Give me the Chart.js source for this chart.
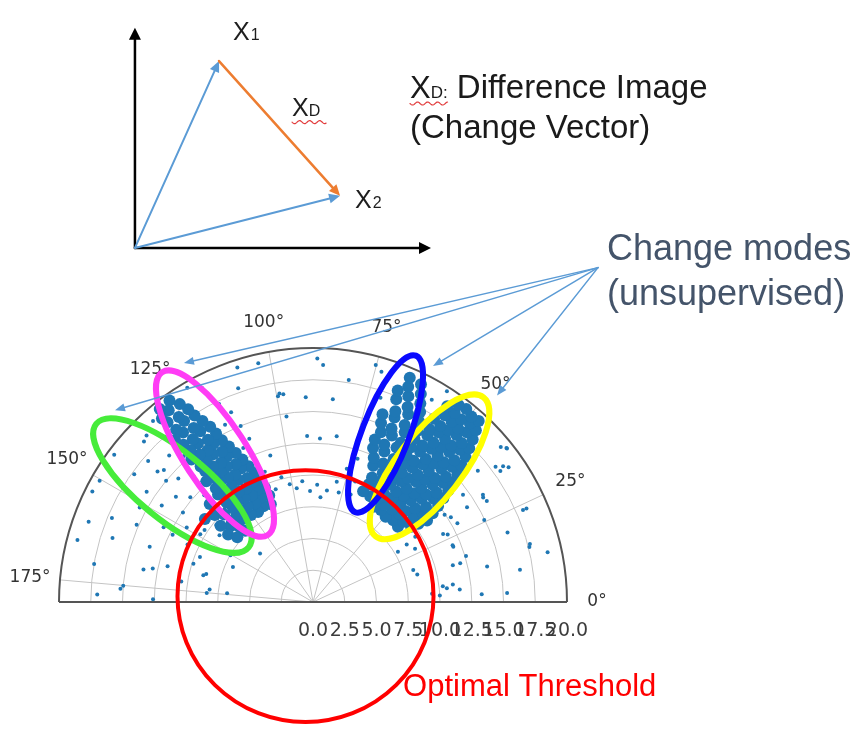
<!DOCTYPE html>
<html>
<head>
<meta charset="utf-8">
<style>
html,body{margin:0;padding:0;background:#ffffff;}
#wrap{width:864px;height:729px;}
</style>
<script src="https://cdn.jsdelivr.net/npm/chart.js@4"></script>
</head>
<body>
<div id="wrap"><canvas id="c" width="864" height="729"></canvas></div>
<script>
// ---------------- data ----------------
// radial tick labels and angular tick labels of the half-polar plot
const radialTicks = [0, 2.5, 5, 7.5, 10, 12.5, 15, 17.5, 20];
const angleTicks = [0, 25, 50, 75, 100, 125, 150, 175];

// [angle in degrees, magnitude] pairs
// dense change mode on the right (yellow / blue ellipses)
const rightMode = [
  [42,9.0],[46,9.1],[50,8.9],[54,9.1],[58,9.0],
  [38,9.8],[42,9.6],[46,9.8],[50,9.7],[54,9.6],[58,9.8],[62,9.6],[66,9.7],
  [37,10.4],[41,10.5],[45,10.3],[49,10.5],[53,10.4],[57,10.3],[61,10.5],[65,10.4],
  [36,11.1],[39.5,11.2],[43,11.0],[46.5,11.2],[50,11.1],[53.5,11.0],[57,11.2],[61,11.1],[65,11.0],
  [37,11.8],[40.5,11.7],[44,11.9],[47.5,11.8],[51,11.7],[54.5,11.9],[58,11.8],[62,11.7],[66.5,11.9],
  [38,12.5],[41,12.6],[44,12.4],[47,12.5],[50,12.6],[53,12.4],[56,12.5],[59.5,12.6],[63.5,12.4],[67.5,12.5],
  [39,13.2],[42,13.1],[45,13.3],[48,13.2],[51,13.1],[54,13.3],[57,13.2],[61,13.1],[65,13.3],[69,13.2],
  [40,13.9],[43,14.0],[46,13.8],[49,13.9],[52,14.0],[55,13.8],[58,13.9],[62,14.0],[66,13.8],[69.5,13.9],
  [41,14.6],[43.8,14.5],[46.6,14.7],[49.4,14.6],[52.2,14.5],[55,14.7],[58,14.6],[61.5,14.5],[65,14.7],[68.5,14.6],
  [42,15.3],[44.7,15.4],[47.4,15.2],[50.1,15.3],[52.8,15.4],[55.5,15.2],[58.5,15.3],[62,15.4],[66,15.2],[69.5,15.3],
  [43,16.0],[45.6,15.9],[48.2,16.1],[50.8,16.0],[53.4,15.9],[56,16.1],[59,16.0],[63,15.9],[66.5,16.1],[70,16.0],
  [44,16.7],[46.5,16.8],[49,16.6],[51.5,16.7],[54,16.8],[56.5,16.6],[60,16.7],[63.5,16.8],[67,16.6],
  [45,17.4],[47.4,17.3],[49.8,17.5],[52.2,17.4],[54.6,17.3],[57,17.5],[61,17.4],[64.5,17.3],[68,17.5],
  [46,18.1],[48.3,18.2],[50.6,18.0],[52.9,18.1],[55.2,18.2],[62,18.0],[65.5,18.1],[68.5,18.2],
  [47,18.8],[49.2,18.9],[51.4,18.7],[53.6,18.8],[56,18.9],[63,18.7],[66.5,18.8],
  [48,19.5],[50,19.4],[52,19.6],[54,19.5],[64,19.4],[67,19.5]
];

// dense change mode on the left (magenta / green ellipses)
const leftMode = [
  [113,8.5],[117,8.6],[121,8.4],[125,8.5],[129,8.6],
  [112,9.2],[116,9.3],[120,9.1],[124,9.2],[128,9.3],[132,9.1],
  [112.5,9.9],[116,10.0],[119.5,9.8],[123,9.9],[126.5,10.0],[130,9.8],
  [113,10.6],[116.5,10.7],[120,10.5],[123.5,10.6],[127,10.7],[130.5,10.5],
  [114,11.3],[117.5,11.2],[121,11.4],[124.5,11.3],[128,11.2],[131,11.4],
  [115,12.0],[118,12.1],[121,11.9],[124,12.0],[127,12.1],[130,11.9],
  [116,12.7],[119,12.6],[122,12.8],[125,12.7],[128,12.6],[131,12.8],
  [117,13.4],[120,13.5],[123,13.3],[126,13.4],[129,13.5],
  [118,14.1],[120.8,14.0],[123.6,14.2],[126.4,14.1],[129.2,14.0],
  [119,14.8],[121.7,14.9],[124.4,14.7],[127.1,14.8],[130,14.9],
  [119.5,15.5],[122.5,15.4],[125.5,15.6],[128.5,15.5],
  [120,16.2],[123,16.3],[126,16.1],[129,16.2],
  [121,16.9],[124,16.8],[127,17.0],[130,16.9],
  [122,17.6],[125,17.7],[128,17.5],
  [122.5,18.3],[125.5,18.2],[128.5,18.4],
  [123.5,19.0],[126.5,19.1],[129,18.9],
  [125,19.7],[128,19.6],
  [134,8.4],[137,8.9],[140,9.5],[138,10.4],[142,10.8],[135,9.9],[141,8.6],[136,11.3],[133,7.8],[139,7.9]
];

// scattered points over the whole half disk
const scattered = [
  [107.6,19.7],[102.7,19.6],[98,16.8],[92,16.4],[89,19.5],[87.6,19.0],[75.4,19.6],[73.7,19.2],
  [99,16.9],[84.5,16.3],[81,18.0],[98,15.0],[92,13.3],[82,13.4],[87.6,13.1],[101,9.6],
  [91.5,8.9],[83,9.0],[77,9.0],[86,8.4],[71,9.1],[95,9.7],[88,9.4],[79,9.8],[104,10.3],[98,9.2],
  [109,18.1],[99.5,16.7],[111,14.0],[106,12.2],[113,16.5],[110,11.1],[108,9.5],
  [31,7.8],[32,8.7],[18,8.3],[21.8,11.9],[15,12.0],[7.3,11.1],[11.7,14.0],[2.7,15.3],
  [15.2,17.7],[12.2,18.9],[24,18.1],[30.6,15.9],[36,14.6],[36,18.5],[39,19.6],[27,11.9],
  [14.5,17.6],[5,11.6],[7,10.3],[15,8.5],[15,11.4],[17,12.6],[28,11.6],[29,13.0],
  [32,15.8],[35,18.8],[37,18.0],[24,18.4],[39,16.7],[40,19.3],[28,9.1],[22.5,11.9],
  [2.7,13.3],[4,9.4],[6,10.6],[3,10.0],[33,9.6],[34,12.5],[26,15.0],[20,16.3],[9,16.5],
  [38.8,19.6],[35.4,18.1],[32.7,15.9],[32,14.3],[32,12.8],
  [72,17.2],[74,15.0],[73,12.0],[76,11.0],[71,10.2],[58,19.9],[60,18.7],
  [153,19.5],[150,19.4],[151,15.6],[153,13.2],[168,12.9],[166,11.8],[175,15.0],[179,12.6],
  [165,8.7],[173,8.2],[158,9.6],[155,10.9],[154,12.3],[146,15.8],[144,17.4],[139.5,16.1],
  [143,19.6],[134.5,18.7],[148.6,10.4],[169,13.6],[176,15.2],[166,8.9],[175,8.4],[161,13.6],
  [138,15.8],[162,9.9],[156,6.9],[174,6.8],[137,5.7],[156,15.2],[162,16.6],
  [133,10.2],[136,9.3],[138,10.8],[135,12.1],[139,12.8],[141,9.8],[143,11.0],[137,14.5],
  [140,15.1],[134,16.3],[142,13.7],[145,12.5],[144,9.1],[146,10.3],[132,17.8],[136,18.5],
  [131,19.2],[139,17.2],[147,14.2],[149,11.6],[133,13.8],[170,17.5],[160,18.8],[157,17.2],
  [165,19.2],[171,10.5],[178,17.0],[150,7.5],[145,7.0],
  [115,17.5],[117,19.2],[114,13.5],[112,15.2],[116,15.8],[131,15.5],[132,13.0],[120,19.8]
];

// ---------------- annotation layout (in chart units) ----------------
const modeEllipses = [
  {theta:139.9, r:14.47, a:7.72, b:2.76, tilt:141, color:'#46ec3a'},
  {theta:123.0, r:14.17, a:7.64, b:2.50, tilt:123, color:'#ff3cf5'},
  {theta:49.7,  r:14.19, a:6.93, b:2.60, tilt:52.2, color:'#ffff00'},
  {theta:67.0,  r:14.62, a:6.61, b:1.89, tilt:68.8, color:'#0a0aff'}
];
const thresholdCircle = {x:-0.59, y:0.47, radius:10.08, color:'#ff0000'};

const notes = {
  origin:[-14.02,28.35], yTop:[-14.02,45.98], xEnd:[9.29,28.35],
  x1Tip:[-7.40,43.31], x2Tip:[2.13,32.52],
  x1Label:[-6.30,44.96], x2Label:[3.31,31.58], xdLabel:[-1.65,38.90],
  defLine1:[7.64,40.39], defLine2:[7.64,37.17],
  modesLine1:[23.15,27.40], modesLine2:[23.15,23.78],
  modesFrom:[22.44,26.77],
  modesTo:[[-10.16,19.13],[-15.59,15.35],[9.45,18.90],[14.49,16.54]],
  threshold:[7.09,-7.56]
};

// ---------------- helpers ----------------
const rad = d => d*Math.PI/180;
const toXY = p => ({x: p[1]*Math.cos(rad(p[0])), y: p[1]*Math.sin(rad(p[0]))});

function arrow(ctx,x0,y0,x1,y1,color,lw,head,hw){
  const a = Math.atan2(y1-y0,x1-x0);
  ctx.strokeStyle=color; ctx.fillStyle=color; ctx.lineWidth=lw; ctx.lineCap='round';
  ctx.beginPath(); ctx.moveTo(x0,y0);
  ctx.lineTo(x1-Math.cos(a)*head*0.7, y1-Math.sin(a)*head*0.7); ctx.stroke();
  ctx.beginPath(); ctx.moveTo(x1,y1);
  ctx.lineTo(x1-head*Math.cos(a)+hw*Math.sin(a), y1-head*Math.sin(a)-hw*Math.cos(a));
  ctx.lineTo(x1-head*Math.cos(a)-hw*Math.sin(a), y1-head*Math.sin(a)+hw*Math.cos(a));
  ctx.closePath(); ctx.fill();
}
function wavy(ctx,x0,x1,y){
  ctx.beginPath();
  for(let xx=x0; xx<=x1; xx+=0.5){
    const yy = y + 1.5*Math.sin((xx-x0)/1.6);
    if(xx===x0) ctx.moveTo(xx,yy); else ctx.lineTo(xx,yy);
  }
  ctx.strokeStyle='#e23b3b'; ctx.lineWidth=1.2; ctx.stroke();
}
function text(ctx,s,x,y,font,color){
  ctx.font=font; ctx.fillStyle=color; ctx.textAlign='left'; ctx.textBaseline='alphabetic';
  ctx.fillText(s,x,y); return ctx.measureText(s).width;
}

const polarPlugin = {
  id:'polarGrid',
  beforeDatasetsDraw(chart){
    const {ctx, scales:{x,y}} = chart;
    const cx = x.getPixelForValue(0), cy = y.getPixelForValue(0);
    const k = x.getPixelForValue(1)-cx;
    const R = 20*k;
    ctx.save();
    ctx.strokeStyle='#c4c4c4'; ctx.lineWidth=1;
    radialTicks.filter(v=>v>0 && v<20).forEach(v=>{
      ctx.beginPath(); ctx.arc(cx,cy,v*k,Math.PI,2*Math.PI); ctx.stroke();
    });
    angleTicks.filter(a=>a>0).forEach(a=>{
      ctx.beginPath(); ctx.moveTo(cx,cy);
      ctx.lineTo(cx+R*Math.cos(rad(a)), cy-R*Math.sin(rad(a))); ctx.stroke();
    });
    ctx.strokeStyle='#555555'; ctx.lineWidth=2;
    ctx.beginPath(); ctx.arc(cx,cy,R,Math.PI,2*Math.PI); ctx.stroke();
    ctx.beginPath(); ctx.moveTo(cx-R,cy); ctx.lineTo(cx+R,cy); ctx.stroke();
    ctx.fillStyle='#333333'; ctx.font='17px "DejaVu Sans"';
    ctx.textAlign='center'; ctx.textBaseline='middle';
    angleTicks.forEach(a=>{
      const rr = R+30;
      ctx.fillText(a+'°', cx+rr*Math.cos(rad(a)), cy-rr*Math.sin(rad(a)));
    });
    ctx.restore();
  },
  afterDatasetsDraw(chart){
    const {ctx, scales:{x,y}} = chart;
    const kx = x.getPixelForValue(1)-x.getPixelForValue(0);
    const ky = y.getPixelForValue(0)-y.getPixelForValue(1);
    const P = p => [x.getPixelForValue(p[0]), y.getPixelForValue(p[1])];
    ctx.save();
    // change-mode ellipses
    modeEllipses.forEach(e=>{
      const px = x.getPixelForValue(e.r*Math.cos(rad(e.theta)));
      const py = y.getPixelForValue(e.r*Math.sin(rad(e.theta)));
      ctx.beginPath();
      ctx.ellipse(px,py,e.a*kx,e.b*ky,-rad(e.tilt),0,2*Math.PI);
      ctx.strokeStyle=e.color; ctx.lineWidth=6; ctx.stroke();
    });
    // threshold circle
    ctx.beginPath();
    ctx.ellipse(x.getPixelForValue(thresholdCircle.x), y.getPixelForValue(thresholdCircle.y),
      thresholdCircle.radius*kx, thresholdCircle.radius*ky, 0, 0, 2*Math.PI);
    ctx.strokeStyle=thresholdCircle.color; ctx.lineWidth=4; ctx.stroke();

    // arrows from "Change modes"
    const f = P(notes.modesFrom);
    notes.modesTo.forEach(t=>{
      const q = P(t);
      arrow(ctx,f[0],f[1],q[0],q[1],'#5b9bd5',1.5,10,4);
    });

    // vector diagram
    const o = P(notes.origin), yt = P(notes.yTop), xe = P(notes.xEnd);
    arrow(ctx,o[0],o[1],yt[0],yt[1],'#000000',2.5,12,6);
    arrow(ctx,o[0],o[1],xe[0],xe[1],'#000000',2.5,12,6);
    const a1 = P(notes.x1Tip), a2 = P(notes.x2Tip);
    arrow(ctx,o[0],o[1],a1[0],a1[1],'#5b9bd5',2,11,5);
    arrow(ctx,o[0],o[1],a2[0],a2[1],'#5b9bd5',2,11,5);
    arrow(ctx,a1[0],a1[1],a2[0],a2[1],'#ed7d31',2.5,11,5);

    const F = s => s+'px "Liberation Sans", Arial, sans-serif';
    let p = P(notes.x1Label);
    let w = text(ctx,'X',p[0],p[1],F(25),'#1e1e1e');
    text(ctx,'1',p[0]+w+1,p[1],F(16),'#1e1e1e');
    p = P(notes.x2Label);
    w = text(ctx,'X',p[0],p[1],F(25),'#1e1e1e');
    text(ctx,'2',p[0]+w+1,p[1],F(16),'#1e1e1e');
    p = P(notes.xdLabel);
    w = text(ctx,'X',p[0],p[1],F(25),'#1e1e1e');
    const w2 = text(ctx,'D',p[0]+w,p[1],F(16),'#1e1e1e');
    wavy(ctx,p[0],p[0]+w+w2+6,p[1]+6);

    p = P(notes.defLine1);
    w = text(ctx,'X',p[0],p[1],F(31),'#1a1a1a');
    let w3 = text(ctx,'D:',p[0]+w,p[1],F(17),'#1a1a1a');
    wavy(ctx,p[0],p[0]+w+w3,p[1]+6);
    text(ctx,' Difference Image',p[0]+w+w3,p[1],F(33),'#1a1a1a');
    p = P(notes.defLine2);
    text(ctx,'(Change Vector)',p[0],p[1],F(33),'#1a1a1a');

    p = P(notes.modesLine1);
    text(ctx,'Change modes',p[0],p[1],F(36),'#44546a');
    p = P(notes.modesLine2);
    text(ctx,'(unsupervised)',p[0],p[1],F(36),'#44546a');

    p = P(notes.threshold);
    text(ctx,'Optimal Threshold',p[0],p[1],F(31),'#ff0000');
    ctx.restore();
  }
};

const yMax = 606/12.7, yMin = -123/12.7;
const pointStyle = (radius) => ({pointRadius:radius, pointHoverRadius:radius,
  pointBackgroundColor:'#1f77b4', backgroundColor:'#1f77b4',
  pointBorderWidth:0, borderWidth:0, pointBorderColor:'#1f77b4'});

new Chart(document.getElementById('c'), {
  type:'scatter',
  data:{
    datasets:[
      Object.assign({label:'scattered', data:scattered.map(toXY)}, pointStyle(2)),
      Object.assign({label:'left mode', data:leftMode.map(toXY)}, pointStyle(6)),
      Object.assign({label:'right mode', data:rightMode.map(toXY)}, pointStyle(6))
    ]
  },
  options:{
    responsive:false,
    animation:false,
    devicePixelRatio:1,
    layout:{padding:{left:59, right:297, top:0, bottom:0}},
    plugins:{legend:{display:false}, tooltip:{enabled:false}},
    scales:{
      x:{
        type:'linear', min:-20, max:20, position:{y:0},
        grid:{display:false}, border:{display:false},
        afterBuildTicks:(axis)=>{ axis.ticks = radialTicks.map(v=>({value:v})); },
        ticks:{autoSkip:false, maxRotation:0, minRotation:0, padding:10, color:'#3c3c3c',
          font:{family:'DejaVu Sans', size:19},
          callback:(v)=>Number(v).toFixed(1)}
      },
      y:{type:'linear', min:yMin, max:yMax, display:false}
    }
  },
  plugins:[polarPlugin]
});
</script>
</body>
</html>
